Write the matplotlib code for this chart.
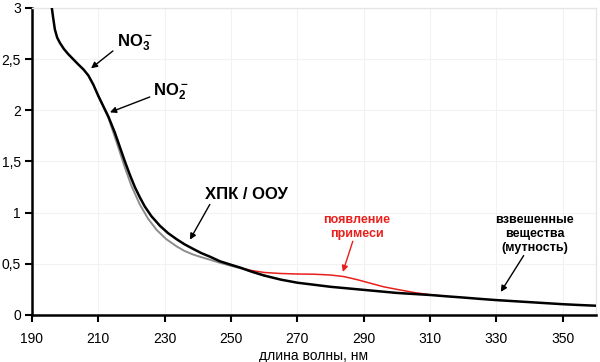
import matplotlib
matplotlib.use('Agg')
import matplotlib.pyplot as plt

# black (main spectrum)
wl = [195.5, 195.9, 196.4, 196.9, 197.6, 198.4, 199.6, 200.9, 202.4, 203.9, 205.5, 207,
      208.5, 210, 211.5, 213, 215, 216.5, 218, 219.5, 221, 222.5, 224, 226, 228.6, 231,
      233.6, 236, 238.6, 241, 243.6, 246.6, 250, 253, 256.5, 260, 265, 270, 275, 280,
      285, 290, 295, 300, 305, 310, 315, 320, 325, 330, 335, 340, 345, 350, 355, 360]
black = [3.06, 3.02, 2.90, 2.79, 2.71, 2.66, 2.60, 2.55, 2.50, 2.45, 2.40, 2.34,
         2.25, 2.14, 2.04, 1.94, 1.78, 1.64, 1.50, 1.37, 1.25, 1.15, 1.06, 0.965, 0.87, 0.80,
         0.74, 0.69, 0.645, 0.605, 0.57, 0.525, 0.49, 0.46, 0.42, 0.385, 0.345, 0.315, 0.295, 0.275,
         0.26, 0.245, 0.23, 0.215, 0.205, 0.195, 0.182, 0.17, 0.157, 0.145, 0.135, 0.125, 0.115, 0.105, 0.097, 0.09]

# gray (before)
wl_gray = [210, 213, 216, 218, 220, 222.5, 225, 227.6, 230.5, 233.6, 236, 238.6, 241, 243.6,
           246.6, 250, 253, 256.5, 260]
gray = [2.14, 1.93, 1.64, 1.44, 1.26, 1.08, 0.94, 0.83, 0.74, 0.67, 0.625, 0.59, 0.565, 0.54,
        0.51, 0.48, 0.455, 0.42, 0.385]

# red (impurity)
wl_red = [250, 253, 256, 260, 265, 270, 275, 280, 284, 288, 292, 296, 300, 305, 310, 315]
red = [0.49, 0.46, 0.435, 0.415, 0.405, 0.40, 0.398, 0.39, 0.375, 0.345, 0.31, 0.275, 0.25, 0.22, 0.197, 0.182]

xticks = [190, 210, 230, 250, 270, 290, 310, 330, 350]
yticks = [0, 0.5, 1, 1.5, 2, 2.5, 3]
ylabels = ['0', '0,5', '1', '1,5', '2', '2,5', '3']

plt.rcParams['font.family'] = ['Liberation Sans', 'DejaVu Sans']
plt.rcParams['mathtext.fontset'] = 'custom'
plt.rcParams['mathtext.rm'] = 'Liberation Sans'
plt.rcParams['mathtext.bf'] = 'Liberation Sans:bold'
plt.rcParams['mathtext.default'] = 'bf'

fig = plt.figure(figsize=(6, 3.62), dpi=100)
ax = fig.add_axes([0.0533, 0.13, 0.94, 0.848])

ax.plot(wl_gray, gray, color='#8c8c8c', lw=1.4, zorder=2)
ax.plot(wl_red, red, color='#e8201c', lw=1.1, zorder=3)
ax.plot(wl, black, color='black', lw=1.8, zorder=4)

ax.set_xlim(190, 360)
ax.set_ylim(0, 3)
ax.set_xticks(xticks)
ax.set_yticks(yticks)
ax.set_yticklabels(ylabels)
ax.grid(True, color='#f2f2f2', lw=0.8)
ax.set_axisbelow(True)

for s in ['left', 'bottom']:
    ax.spines[s].set_linewidth(1.8)
for s in ['top', 'right']:
    ax.spines[s].set_color('#e6e6e6')
    ax.spines[s].set_linewidth(1.0)
ax.tick_params(axis='both', direction='out', length=5, width=1.5, labelsize=10, pad=3)
ax.tick_params(axis='x', pad=7)

ax.set_xlabel('длина волны, нм', fontsize=10)
ax.xaxis.set_label_coords(0.5, -0.11)

arrow = dict(arrowstyle='-|>', color='black', lw=1.0, mutation_scale=9, shrinkA=0, shrinkB=0)
red_arrow = dict(arrowstyle='-|>', color='#e8201c', lw=1.0, mutation_scale=9, shrinkA=0, shrinkB=0)

# labels
ax.text(215.6, 2.66, r'$NO_3^-$', fontsize=12, ha='left', va='center')
ax.text(226.4, 2.18, r'$NO_2^-$', fontsize=12, ha='left', va='center')
ax.text(254.5, 1.18, 'ХПК / ООУ', fontsize=12, fontweight='bold', ha='center', va='center')
ax.text(287.9, 0.86, 'появление\nпримеси', fontsize=9, fontweight='bold', color='#e8201c',
        ha='center', va='center', linespacing=1.25)
ax.text(341.5, 0.79, 'взвешенные\nвещества\n(мутность)', fontsize=9, fontweight='bold',
        ha='center', va='center', linespacing=1.25)

# arrows
ax.annotate('', xy=(207.8, 2.41), xytext=(214.4, 2.58), arrowprops=arrow)
ax.annotate('', xy=(213.5, 1.98), xytext=(225.5, 2.13), arrowprops=arrow)
ax.annotate('', xy=(237.6, 0.735), xytext=(243.6, 1.08), arrowprops=arrow)
ax.annotate('', xy=(283.7, 0.42), xytext=(286.7, 0.72), arrowprops=red_arrow)
ax.annotate('', xy=(331.3, 0.225), xytext=(338.2, 0.58), arrowprops=arrow)

fig.savefig('out.png', dpi=100)
